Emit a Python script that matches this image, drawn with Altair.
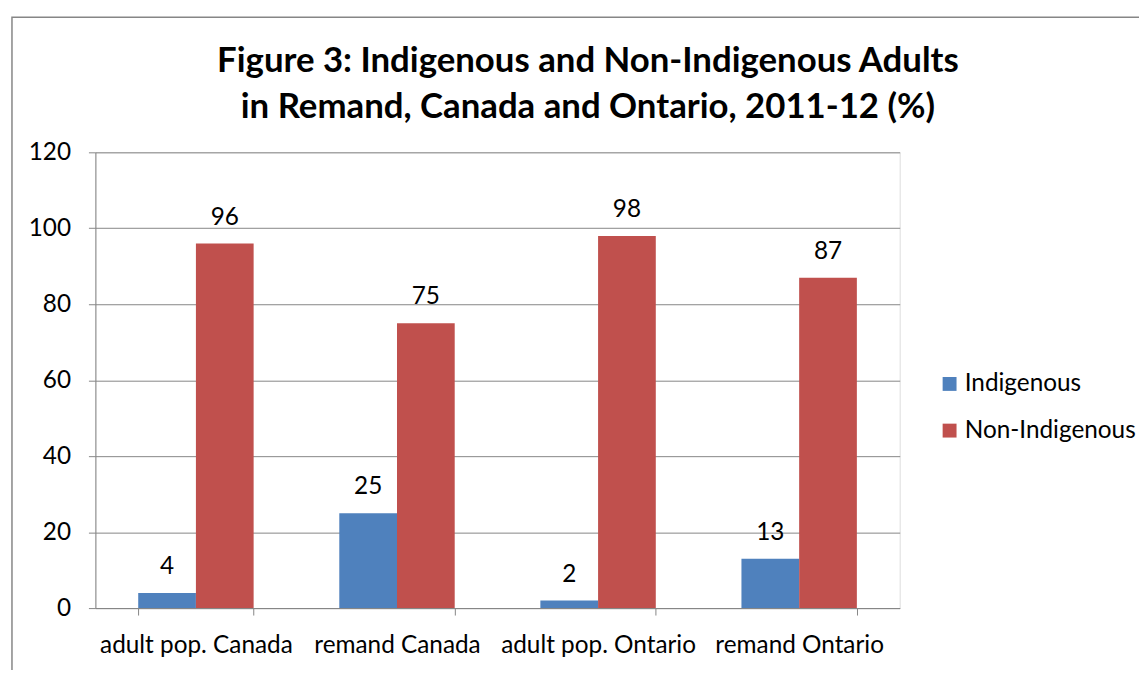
import altair as alt
import pandas as pd

categories = ["adult pop. Canada", "remand Canada", "adult pop. Ontario", "remand Ontario"]
series = ["Indigenous", "Non-Indigenous"]
indigenous = [4, 25, 2, 13]
non_indigenous = [96, 75, 98, 87]
colors = ["#4F81BD", "#C0504D"]
title_text = "Figure 3: Indigenous and Non-Indigenous Adults\nin Remand, Canada and Ontario, 2011-12 (%)"

rows = []
for c, a, b in zip(categories, indigenous, non_indigenous):
    rows.append({"category": c, "series": series[0], "value": a})
    rows.append({"category": c, "series": series[1], "value": b})
df = pd.DataFrame(rows)

FONT = "Lato"
FS = 24.5
W, H = 810, 459

x_enc = alt.X("category:N", sort=categories, title=None,
              scale=alt.Scale(paddingInner=0.426, paddingOuter=0.213),
              axis=alt.Axis(labelAngle=0, tickBand="extent", labelFontSize=FS,
                            labelFont=FONT, labelColor="black", domainColor="#868686",
                            tickColor="#868686", tickSize=7, labelPadding=19,
                            labelLimit=0, grid=False))
y_enc = alt.Y("value:Q", title=None,
              scale=alt.Scale(domain=[0, 120]),
              axis=alt.Axis(values=[0, 20, 40, 60, 80, 100, 120], labelFontSize=FS,
                            labelFont=FONT, labelColor="black", domainColor="#868686",
                            tickColor="#868686", tickSize=7, labelPadding=18,
                            gridColor="#868686", gridWidth=1))
xoff = alt.XOffset("series:N", sort=series)

frame = alt.Chart(pd.DataFrame({"a": [0]})).mark_rect(
    fill=None, fillOpacity=0, stroke="#868686", strokeWidth=1.5
).encode(x=alt.value(-84), y=alt.value(-136), x2=alt.value(1200), y2=alt.value(700))

title = alt.Chart(pd.DataFrame({"t": [title_text]})).mark_text(
    fontSize=35, font=FONT, fontWeight="bold", color="black",
    align="center", baseline="alphabetic", lineBreak="\n", lineHeight=46
).encode(x=alt.value(496), y=alt.value(-81), text="t:N")

bars = alt.Chart(df).mark_bar().encode(
    x=x_enc, xOffset=xoff, y=y_enc,
    color=alt.Color("series:N", sort=series,
                    scale=alt.Scale(domain=series, range=colors),
                    legend=alt.Legend(title=None, orient="none", legendX=848, legendY=221,
                                      symbolType="square", symbolSize=196,
                                      symbolStrokeWidth=0, labelFontSize=FS,
                                      labelFont=FONT, labelColor="black",
                                      labelLimit=0, rowPadding=22, labelOffset=3)),
)

labels = alt.Chart(df).mark_text(
    baseline="alphabetic", dy=-19, fontSize=FS, font=FONT, color="black"
).encode(x=alt.X("category:N", sort=categories), xOffset=xoff,
         y="value:Q", text="value:Q")

chart = alt.layer(frame, title, bars, labels).properties(
    width=W, height=H,
    autosize=alt.AutoSizeParams(type="none"),
    padding={"left": 88, "top": 143, "right": 241, "bottom": 60},
).configure_view(stroke=None).configure(background="white")

chart.save("out.html", embed_options={"renderer": "svg", "actions": False})
